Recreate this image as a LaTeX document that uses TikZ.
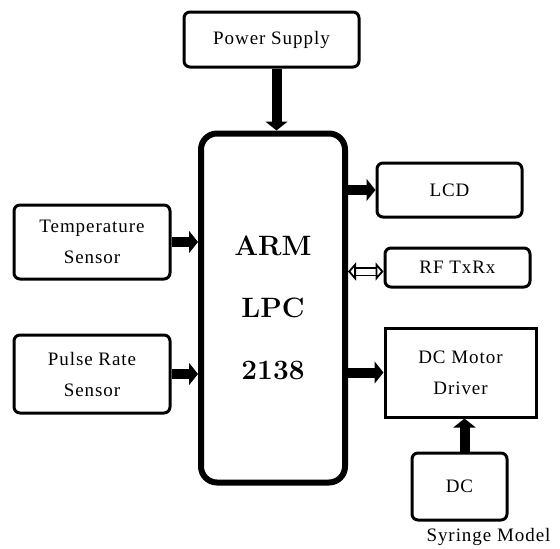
\documentclass[tikz,border=0pt]{standalone}
\usepackage{fontspec}
\newfontfamily\blockfont{Liberation Serif}[LetterSpace=5]
\usetikzlibrary{arrows.meta,positioning}

\begin{document}
\begin{tikzpicture}[x=1pt, y=-1pt,
    % Define styles
    block/.style={rectangle, draw=black, line width=3pt, rounded corners=6pt, fill=white, align=center, font=\blockfont\fontsize{19}{31}\selectfont},
    plainblock/.style={block, rounded corners=0pt},
    cpu/.style={rectangle, draw=black, line width=6pt, rounded corners=16pt, fill=white, align=center, font=\bfseries\fontsize{28}{62}\selectfont},
    thickarrow/.style={-{Triangle[length=9pt,width=22pt]}, line width=10pt, black},
    dblarrow/.style={{Triangle[length=8pt,width=18pt,fill=white,line width=1.8pt]}-{Triangle[length=8pt,width=18pt,fill=white,line width=1.8pt]}, double, double distance=6pt, line width=1.8pt, black}
]
\useasboundingbox (0,0) rectangle (560,549);

% Main Controller
\node[cpu, minimum width=144pt, minimum height=349pt] (arm) at (273,308) {ARM\\LPC\\2138};

% Top block
\node[block, minimum width=175pt, minimum height=55pt] (power) at (271.5,39.5) {Power Supply};

% Input sensors
\node[block, minimum width=156pt, minimum height=74pt] (temp) at (92,242) {Temperature\\Sensor};
\node[block, minimum width=156pt, minimum height=78pt] (pulse) at (92,374) {Pulse Rate\\Sensor};

% Output blocks
\node[block, minimum width=145pt, minimum height=54pt] (lcd) at (449.5,190) {LCD};
\node[block, minimum width=145pt, minimum height=39pt] (rf) at (457.5,267.5) {RF TxRx};
\node[plainblock, minimum width=151pt, minimum height=89pt] (driver) at (460.5,372.5) {DC Motor\\Driver};
\node[block, minimum width=95pt, minimum height=67pt] (dc) at (459.5,486.5) {DC};

% Label
\node[font=\blockfont\fontsize{19}{22}\selectfont, anchor=west] (syringe) at (423,537) {Syringe Model};

% Connections
\draw[thickarrow] ([xshift=5pt]power.south) -- ([xshift=5pt]power.south |- arm.north);
\draw[thickarrow] (temp.east) -- (temp.east -| arm.west);
\draw[thickarrow] (pulse.east) -- (pulse.east -| arm.west);
\draw[thickarrow] (arm.east |- lcd.west) -- (lcd.west);
\draw[dblarrow] ([yshift=-4pt]arm.east |- rf.west) -- ([yshift=-4pt]rf.west);
\draw[thickarrow] (arm.east |- driver.west) -- (driver.west);
\draw[thickarrow] ([xshift=5pt]dc.north) -- ([xshift=5pt]dc.north |- driver.south);

\end{tikzpicture}
\end{document}
